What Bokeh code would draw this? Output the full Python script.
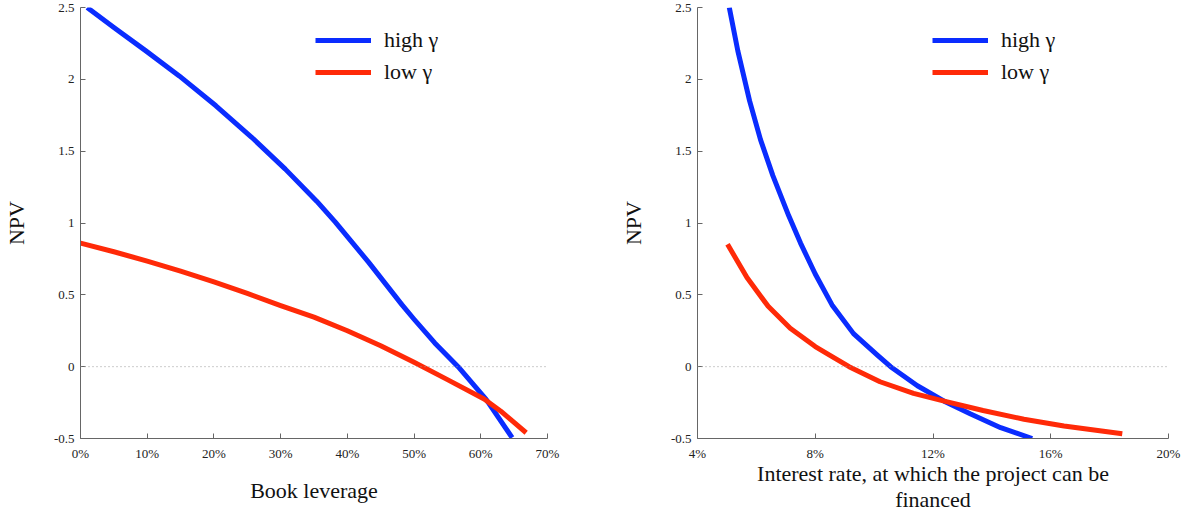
from bokeh.plotting import figure
from bokeh.layouts import row
from bokeh.models import Range1d, FixedTicker, Span, Legend, LegendItem
from bokeh.embed import file_html
from bokeh.resources import INLINE

# ---- data ----
lev_high = [1.0, 5, 9.8, 14.8, 20.3, 25.7, 30.7, 35.4, 38.2, 43.2, 48.2, 50, 53.1, 56.6, 60.8, 64.7]
npv_lev_high = [2.50, 2.36, 2.198, 2.024, 1.816, 1.595, 1.375, 1.152, 1.006, 0.726, 0.43, 0.33, 0.165, 0.0, -0.227, -0.494]
lev_low = [0, 5, 10, 15, 20, 25, 30, 35, 40, 45, 50, 55, 60.5, 63, 66.8]
npv_lev_low = [0.86, 0.80, 0.735, 0.665, 0.59, 0.51, 0.425, 0.345, 0.25, 0.145, 0.03, -0.09, -0.225, -0.31, -0.46]

rate_high = [5.08, 5.37, 5.77, 6.14, 6.56, 7.1, 7.5, 8.0, 8.57, 9.3, 10.11, 10.56, 11.47, 12.38, 13.28, 14.3, 15.37]
npv_rate_high = [2.5, 2.198, 1.85, 1.58, 1.33, 1.05, 0.86, 0.645, 0.43, 0.23, 0.08, 0.0, -0.133, -0.24, -0.33, -0.425, -0.5]
rate_low = [5.02, 5.68, 6.4, 7.15, 8.0, 8.53, 9.15, 10.2, 11.34, 12.38, 13.7, 15.09, 16.45, 18.43]
npv_rate_low = [0.852, 0.62, 0.42, 0.267, 0.14, 0.075, 0.0, -0.105, -0.186, -0.24, -0.305, -0.366, -0.413, -0.467]

y_ticks = [-0.5, 0, 0.5, 1, 1.5, 2, 2.5]
y_tick_labels = ["-0.5", "0", "0.5", "1", "1.5", "2", "2.5"]
lev_ticks = [0, 10, 20, 30, 40, 50, 60, 70]
rate_ticks = [4, 8, 12, 16, 20]
series_labels = ["high γ", "low γ"]
x_titles = ["Book leverage", "Interest rate, at which the project can be\nfinanced"]

BLUE = "#0a2cff"
RED = "#ff2a08"
FONT = "Liberation Serif"


def make_fig(width, left, right, xr, xticks, xlabel, label_standoff, xs_hi, ys_hi, xs_lo, ys_lo):
    p = figure(width=width, height=518, output_backend="svg", toolbar_location=None,
               x_range=Range1d(*xr), y_range=Range1d(-0.5, 2.5),
               min_border_left=left, min_border_right=right,
               min_border_top=7, min_border_bottom=80)
    p.outline_line_color = None
    p.xgrid.visible = False
    p.ygrid.visible = False
    p.background_fill_color = "white"
    p.border_fill_color = "white"

    p.add_layout(Span(location=0, dimension="width", line_color="#999999",
                      line_dash="1 3", line_width=1))

    r_hi = p.line(xs_hi, ys_hi, line_color=BLUE, line_width=5, line_join="round")
    r_lo = p.line(xs_lo, ys_lo, line_color=RED, line_width=5, line_join="round")

    for ax in (p.xaxis[0], p.yaxis[0]):
        ax.axis_line_color = "#666666"
        ax.major_tick_line_color = "#666666"
        ax.major_tick_in = 5
        ax.major_tick_out = 0
        ax.minor_tick_line_color = None
        ax.major_label_text_font = FONT
        ax.major_label_text_font_size = "13px"
        ax.major_label_text_color = "#222222"
        ax.axis_label_text_font = FONT
        ax.axis_label_text_font_style = "normal"
        ax.axis_label_text_font_size = "22px"
        ax.axis_label_text_line_height = 1.05
        ax.axis_label_text_color = "#111111"

    p.yaxis.ticker = FixedTicker(ticks=y_ticks)
    p.yaxis.major_label_overrides = {t: l for t, l in zip(y_ticks, y_tick_labels)}
    p.yaxis.axis_label = "NPV"
    p.yaxis.axis_label_standoff = 22
    p.yaxis.major_label_standoff = 6

    p.xaxis.ticker = FixedTicker(ticks=xticks)
    p.xaxis.major_label_overrides = {t: f"{t}%" for t in xticks}
    p.xaxis.major_label_standoff = 7
    p.xaxis.axis_label = xlabel
    p.xaxis.axis_label_standoff = label_standoff

    legend = Legend(items=[LegendItem(label=series_labels[0], renderers=[r_hi]),
                           LegendItem(label=series_labels[1], renderers=[r_lo])],
                    location=(235, 353))
    legend.padding = 0
    legend.margin = 0
    legend.spacing = 6
    legend.glyph_width = 56
    legend.glyph_height = 22
    legend.label_height = 22
    legend.label_standoff = 13
    legend.label_text_font = FONT
    legend.label_text_font_size = "22px"
    legend.label_text_color = "#111111"
    legend.border_line_color = None
    legend.background_fill_alpha = 0
    p.add_layout(legend)
    return p


p1 = make_fig(600, 77, 53, (0, 70), lev_ticks, x_titles[0], 14,
              lev_high, npv_lev_high, lev_low, npv_lev_low)
p2 = make_fig(591, 97, 23, (4, 20), rate_ticks, x_titles[1], -3,
              rate_high, npv_rate_high, rate_low, npv_rate_low)

layout = row(p1, p2)
open("out.html", "w").write(file_html(layout, INLINE))
